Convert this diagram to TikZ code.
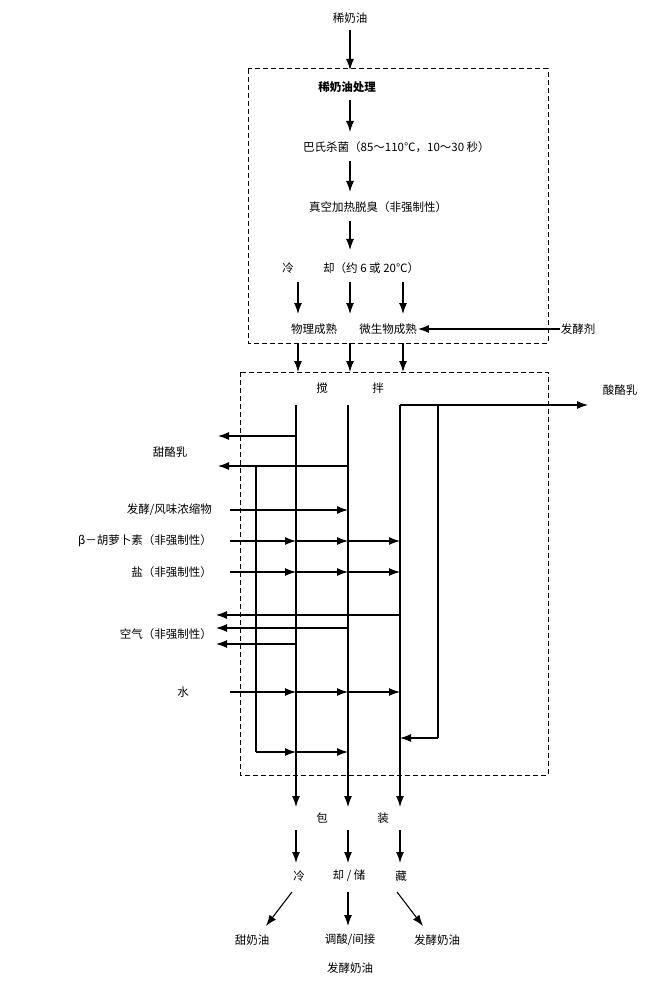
\documentclass[tikz,border=0pt]{standalone}
\usepackage{fontspec}
\setmainfont{Noto Sans CJK SC}[BoldFont={Noto Sans CJK SC Black}]
\usetikzlibrary{arrows.meta}
\tikzset{
  lbl/.style={inner sep=1pt,font=\fontsize{11.5}{13}\selectfont},
  flow/.style={-{Latex[length=11pt,width=8pt]},line width=1.1pt},
  wire/.style={line width=1.1pt},
  zone/.style={dashed,dash pattern=on 5pt off 3pt,line width=1pt}
}
\begin{document}
\begin{tikzpicture}[x=1pt,y=-1pt]
        \useasboundingbox (0,0) rectangle (666,984);

        %dashed zones
        \draw[zone] (248,69) rectangle (548,343);
        \draw[zone] (240,372) rectangle (548,775);

        %treatment
        \node[lbl] (cream) at (350,18) {稀奶油};
        \node[lbl,font=\fontsize{11.5}{13}\bfseries] (treat) at (347,87) {稀奶油处理};
        \node[lbl,anchor=west] (past) at (302,147) {巴氏杀菌（85～110℃，10～30 秒）};
        \node[lbl,anchor=west] (vac) at (308,207) {真空加热脱臭（非强制性）};
        \node[lbl] (coolA) at (288,268) {冷};
        \node[lbl,anchor=west] (coolB) at (322,268) {却（约 6 或 20℃）};
        \node[lbl] (phys) at (314,329) {物理成熟};
        \node[lbl] (micro) at (388,329) {微生物成熟};
        \node[lbl] (starter) at (578,329) {发酵剂};
        \draw[flow] (350,30) -- (350,70);
        \draw[flow] (350,100) -- (350,132);
        \draw[flow] (350,161) -- (350,192);
        \draw[flow] (350,221) -- (350,250);
        \foreach \px in {298,350,403}{
          \draw[flow] (\px,282) -- (\px,314);
          \draw[flow] (\px,343) -- (\px,372);
        }
        \draw[flow] (starter.west) -- (micro.east);

        %churning
        \node[lbl] (churnA) at (322,388) {搅};
        \node[lbl] (churnB) at (378,388) {拌};
        \node[lbl] (sour) at (620,390) {酸酪乳};
        \node[lbl] (sweet) at (170,452) {甜酪乳};
        \node[lbl,anchor=east] (aroma) at (213,510) {发酵/风味浓缩物};
        \node[lbl,anchor=east] (carot) at (213,541) {β－胡萝卜素（非强制性）};
        \node[lbl,anchor=east] (salt) at (213,572) {盐（非强制性）};
        \node[lbl,anchor=east] (air) at (213,634) {空气（非强制性）};
        \node[lbl,anchor=east] (water) at (190,692) {水};

        \foreach \px in {296,348,400}{
          \draw[flow] (\px,405) -- (\px,807);
        }
        \draw[flow] (400,405) -- (588,405);
        \draw[wire] (438,405) -- (438,738);
        \draw[flow] (438,738) -- (400,738);
        \draw[flow] (296,436) -- (218,436);
        \draw[flow] (348,466) -- (218,466);
        \draw[wire] (256,466) -- (256,752);
        \draw[flow] (256,752) -- (296,752);
        \draw[flow] (296,752) -- (348,752);
        \draw[flow] (230,510) -- (348,510);
        \foreach \py in {541,572,692}{
          \draw[flow] (230,\py) -- (296,\py);
          \draw[flow] (296,\py) -- (348,\py);
          \draw[flow] (348,\py) -- (400,\py);
        }
        \draw[flow] (400,615) -- (216,615);
        \draw[flow] (348,628) -- (216,628);
        \draw[flow] (296,644) -- (216,644);

        %packing and storage
        \node[lbl] (packA) at (322,818) {包};
        \node[lbl] (packB) at (383,818) {装};
        \node[lbl] (storeA) at (299,876) {冷};
        \node[lbl] (storeB) at (349,876) {却 / 储};
        \node[lbl] (storeC) at (401,876) {藏};
        \foreach \px in {296,348,400}{
          \draw[flow] (\px,830) -- (\px,863);
        }
        \node[lbl] (sweetc) at (252,940) {甜奶油};
        \node[lbl] (acid) at (350,940) {调酸/间接};
        \node[lbl] (acidb) at (350,968) {发酵奶油};
        \node[lbl] (cultc) at (437,940) {发酵奶油};
        \draw[flow] (292,892) -- (266,926);
        \draw[flow] (348,892) -- (348,926);
        \draw[flow] (397,892) -- (423,926);
\end{tikzpicture}
\end{document}
